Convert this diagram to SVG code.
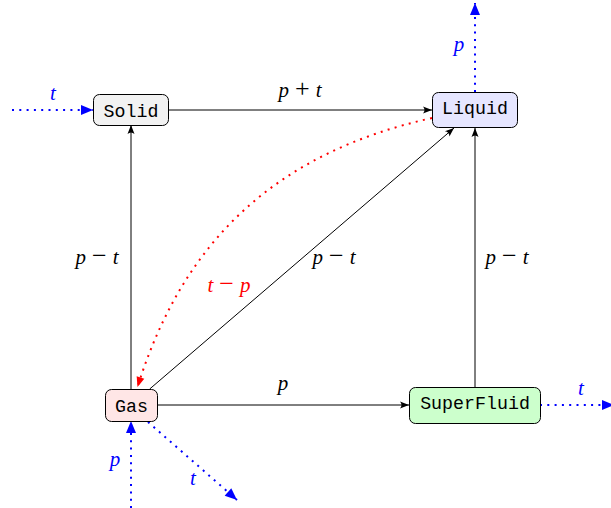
<svg xmlns="http://www.w3.org/2000/svg" width="611" height="508" viewBox="0 0 611 508">
<style>
  .box { stroke: #000; stroke-width: 1; }
  .node-text { font-family: "Liberation Mono", "DejaVu Sans Mono", monospace; font-size: 18.3px; fill: #000; text-anchor: middle; }
  .edge { fill: none; stroke: #000; stroke-width: 1; }
  .blue { fill: none; stroke: #0000ff; stroke-width: 2; stroke-dasharray: 2 5.3; }
  .red { fill: none; stroke: #ff0000; stroke-width: 2; stroke-dasharray: 2 5.3; }
  .lbl { font-family: "Liberation Serif", "Times New Roman", serif; font-size: 21px; text-anchor: middle; fill: #000; }
  .lbl .v { font-style: italic; }
  .lbl .op { font-size: 26px; }
  .lbl-b { fill: #0000ff; }
  .lbl-r { fill: #ff0000; }
</style>
<defs>
  <marker id="ah" markerUnits="userSpaceOnUse" markerWidth="10" markerHeight="8" refX="9" refY="3.5" orient="auto" overflow="visible">
    <path d="M0,0 Q3,3.5 0,7 L9,3.5 Z" fill="#000"/>
  </marker>
  <marker id="ahb" markerUnits="userSpaceOnUse" markerWidth="13" markerHeight="11" refX="12" refY="5" orient="auto" overflow="visible">
    <path d="M0,0 L12,5 L0,10 Z" fill="#0000ff"/>
  </marker>
  <marker id="ahr" markerUnits="userSpaceOnUse" markerWidth="11" markerHeight="9" refX="10" refY="4" orient="auto" overflow="visible">
    <path d="M0,0 L10,4 L0,8 Z" fill="#ff0000"/>
  </marker>
</defs>

<g id="connectors">
  <path class="edge" d="M168,110 L432,110" marker-end="url(#ah)"/>
  <path class="edge" d="M131,389 L131,125" marker-end="url(#ah)"/>
  <path class="edge" d="M149.7,389 L454,128" marker-end="url(#ah)"/>
  <path class="edge" d="M475,387 L475,128" marker-end="url(#ah)"/>
  <path class="edge" d="M157,405 L409,405" marker-end="url(#ah)"/>
  <path class="red" d="M432,118 C279,152 184,238 137.5,387" marker-end="url(#ahr)"/>
  <path class="blue" d="M12,110 L93,110" marker-end="url(#ahb)"/>
  <path class="blue" d="M475,92 L475,3" marker-end="url(#ahb)"/>
  <path class="blue" d="M540,405 L614,405" marker-end="url(#ahb)"/>
  <path class="blue" d="M131,508 L131,421" marker-end="url(#ahb)"/>
  <path class="blue" d="M148,422 L237,500" marker-end="url(#ahb)"/>

  <text class="lbl" x="300" y="97"><tspan class="v">p</tspan><tspan class="op" dx="6">+</tspan><tspan class="v" dx="6">t</tspan></text>
  <text class="lbl" x="97" y="264"><tspan class="v">p</tspan><tspan class="op" dx="6">−</tspan><tspan class="v" dx="6">t</tspan></text>
  <text class="lbl" x="334" y="264"><tspan class="v">p</tspan><tspan class="op" dx="6">−</tspan><tspan class="v" dx="6">t</tspan></text>
  <text class="lbl" x="507" y="264"><tspan class="v">p</tspan><tspan class="op" dx="6">−</tspan><tspan class="v" dx="6">t</tspan></text>
  <text class="lbl lbl-r" x="229" y="292"><tspan class="v">t</tspan><tspan class="op" dx="6">−</tspan><tspan class="v" dx="6">p</tspan></text>
  <text class="lbl" x="283" y="390"><tspan class="v">p</tspan></text>
  <text class="lbl lbl-b" x="53" y="100"><tspan class="v">t</tspan></text>
  <text class="lbl lbl-b" x="459" y="51"><tspan class="v">p</tspan></text>
  <text class="lbl lbl-b" x="581" y="395"><tspan class="v">t</tspan></text>
  <text class="lbl lbl-b" x="115" y="466"><tspan class="v">p</tspan></text>
  <text class="lbl lbl-b" x="193" y="485"><tspan class="v">t</tspan></text>
</g>

<g id="Solid">
  <rect class="box" x="93.5" y="94.5" width="75" height="31" rx="6" fill="#f2f2f2"/>
  <text class="node-text" x="131" y="116.5">Solid</text>
</g>
<g id="Liquid">
  <rect class="box" x="432.5" y="92.5" width="85" height="35" rx="6" fill="#e6e6ff"/>
  <text class="node-text" x="475" y="113.5">Liquid</text>
</g>
<g id="Gas">
  <rect class="box" x="105.5" y="389.5" width="52" height="32" rx="6" fill="#ffe6e6"/>
  <text class="node-text" x="131.5" y="412">Gas</text>
</g>
<g id="SuperFluid">
  <rect class="box" x="409.5" y="387.5" width="131" height="36" rx="6" fill="#ccffcc"/>
  <text class="node-text" x="475" y="409">SuperFluid</text>
</g>
</svg>
